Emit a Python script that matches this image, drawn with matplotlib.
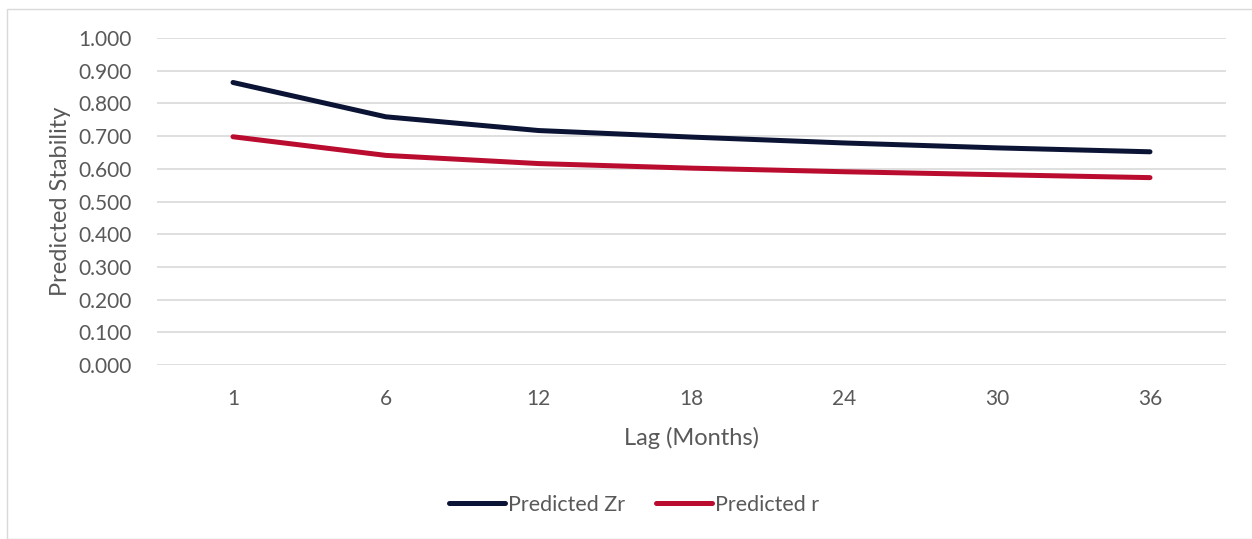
import matplotlib
matplotlib.use("Agg")
import matplotlib.pyplot as plt
from matplotlib.patches import Rectangle

categories = ["1", "6", "12", "18", "24", "30", "36"]
predicted_zr = [0.864, 0.759, 0.717, 0.697, 0.679, 0.664, 0.652]
predicted_r = [0.698, 0.641, 0.616, 0.602, 0.591, 0.582, 0.573]
yticks = [0.0, 0.1, 0.2, 0.3, 0.4, 0.5, 0.6, 0.7, 0.8, 0.9, 1.0]

plt.rcParams['font.family'] = ['Lato', 'DejaVu Sans']
text_color = '#595959'

W, H = 1252, 539
fig = plt.figure(figsize=(W/100, H/100), dpi=100)
ax = fig.add_axes([156.6/W, 1 - 365/H, (1226.4-156.6)/W, (365-38)/H])

x = list(range(len(categories)))
ax.plot(x, predicted_zr, color='#0b1434', lw=3.6, solid_capstyle='round', label='Predicted Zr')
ax.plot(x, predicted_r, color='#ba0c2f', lw=3.6, solid_capstyle='round', label='Predicted r')

ax.set_xlim(-0.5, len(categories) - 0.5)
ax.set_ylim(0, 1.0)
ax.set_yticks(yticks)
ax.set_yticklabels([f"{v:.3f}" for v in yticks])
ax.set_xticks(x)
ax.set_xticklabels(categories)
ax.grid(axis='y', color='#d9d9d9', lw=1.2)
ax.set_axisbelow(True)
for s in ax.spines.values():
    s.set_visible(False)
ax.tick_params(axis='both', length=0, labelsize=15, colors=text_color)
ax.tick_params(axis='y', pad=18)
ax.tick_params(axis='x', pad=17)

ax.set_xlabel('Lag (Months)', fontsize=17, color=text_color, labelpad=13)
ax.set_ylabel('Predicted Stability', fontsize=17, color=text_color, labelpad=5)

leg = fig.legend(loc='center', bbox_to_anchor=(634/W, 1 - 505/H), ncol=2, frameon=False,
                 fontsize=15.5, handlelength=2.6, handletextpad=0.15, columnspacing=1.4)
for t in leg.get_texts():
    t.set_color(text_color)

fig.patches.append(Rectangle((7/W, 0), 1.0, 1 - 9/H, transform=fig.transFigure,
                             fill=False, edgecolor='#d9d9d9', lw=1))

fig.savefig('out.png', dpi=100, facecolor='white')
